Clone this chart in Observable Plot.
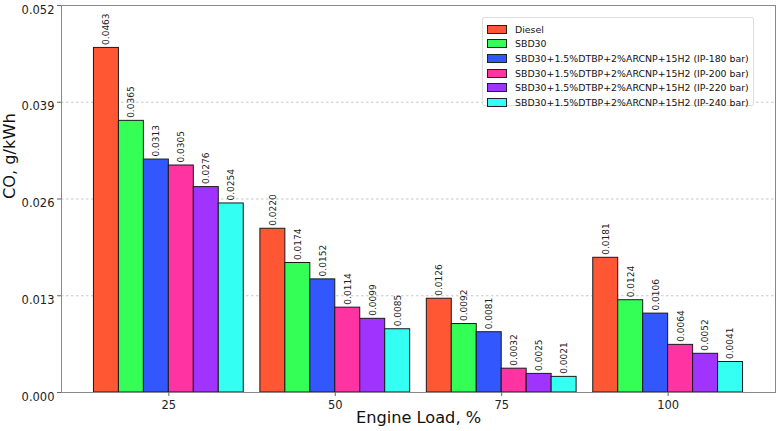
<!DOCTYPE html>
<html>
<head>
<meta charset="utf-8">
<script src="https://cdn.jsdelivr.net/npm/d3@7"></script>
<script src="https://cdn.jsdelivr.net/npm/@observablehq/plot@0.6"></script>
<style>
  html, body { margin: 0; padding: 0; background: #fff; }
  #chart { position: relative; width: 776px; height: 431px; font-family: "DejaVu Sans", sans-serif; }
  #legend {
    position: absolute; left: 482px; top: 17px; width: 272px; height: 89px;
    box-sizing: border-box; border: 1px solid #ddd; border-radius: 2px; background: rgba(255,255,255,0.85);
    padding: 4px 0 0 4px; font-size: 9.4px; color: #111;
  }
  #legend .row { display: flex; align-items: center; height: 14.6px; white-space: nowrap; }
  #legend .sw { width: 18px; height: 7px; border: 1px solid #222; margin-right: 8px; flex: none; }
</style>
</head>
<body>
<div id="chart"></div>
<script>
// Engine load levels (x categories)
const loads = [25, 50, 75, 100];

// Fuel blends, in drawing order
const seriesNames = [
  "Diesel",
  "SBD30",
  "SBD30+1.5%DTBP+2%ARCNP+15H2 (IP-180 bar)",
  "SBD30+1.5%DTBP+2%ARCNP+15H2 (IP-200 bar)",
  "SBD30+1.5%DTBP+2%ARCNP+15H2 (IP-220 bar)",
  "SBD30+1.5%DTBP+2%ARCNP+15H2 (IP-240 bar)"
];
const seriesColors = ["#FF5733", "#33FF57", "#3357FF", "#FF33A1", "#A133FF", "#33FFF3"];

// CO emissions (g/kWh) per blend, one value per load
const diesel = [0.0463, 0.0220, 0.0126, 0.0181];
const sbd30  = [0.0365, 0.0174, 0.0092, 0.0124];
const ip180  = [0.0313, 0.0152, 0.0081, 0.0106];
const ip200  = [0.0305, 0.0114, 0.0032, 0.0064];
const ip220  = [0.0276, 0.0099, 0.0025, 0.0052];
const ip240  = [0.0254, 0.0085, 0.0021, 0.0041];

const yTicks = [0, 0.013, 0.026, 0.039, 0.052];

const seriesValues = [diesel, sbd30, ip180, ip200, ip220, ip240];
const barWidth = 0.15;

const rows = [];
loads.forEach((load, gi) => {
  seriesValues.forEach((vals, si) => {
    const xm = gi + (si - (seriesNames.length - 1) / 2) * barWidth;
    rows.push({load, series: seriesNames[si], xm, x1: xm - barWidth / 2, x2: xm + barWidth / 2, value: vals[gi]});
  });
});

const half = (seriesNames.length / 2) * barWidth;
const pad = 0.05 * (loads.length - 1 + 2 * half);

const chart = Plot.plot({
  width: 776,
  height: 431,
  marginLeft: 61,
  marginRight: 1,
  marginTop: 5,
  marginBottom: 39,
  style: {fontFamily: "DejaVu Sans, sans-serif", background: "#fff"},
  x: {type: "linear", domain: [-half - pad, loads.length - 1 + half + pad]},
  y: {domain: [0, 0.052]},
  color: {domain: seriesNames, range: seriesColors},
  marks: [
    Plot.ruleY(yTicks, {stroke: "#bbb", strokeDasharray: "2.5,2.5", strokeWidth: 0.8}),
    Plot.rectY(rows, {x1: "x1", x2: "x2", y1: 0, y2: "value", fill: "series", stroke: "#1a1a1a", strokeWidth: 1}),
    Plot.text(rows, {
      x: "xm", y: "value", text: d => d.value.toFixed(4),
      rotate: -90, textAnchor: "start", lineAnchor: "middle", dy: -3,
      fontSize: 9, fill: "#222"
    }),
    Plot.frame({stroke: "#888", strokeWidth: 1}),
    Plot.axisY({ticks: yTicks, tickFormat: d => d.toFixed(3), tickSize: 4, tickPadding: 3, stroke: "#666", fill: "#222", fontSize: 11.5, label: null}),
    Plot.axisX({ticks: loads.map((_, i) => i), tickFormat: i => loads[i], tickSize: 4, tickPadding: 4, stroke: "#666", fill: "#222", fontSize: 11.5, label: null}),
    Plot.text(["Engine Load, %"], {frameAnchor: "bottom", dy: 30, fontSize: 16.2, fill: "#111", lineAnchor: "bottom"}),
    Plot.text(["CO, g/kWh"], {frameAnchor: "left", dx: -52, rotate: -90, fontSize: 16.2, fill: "#111"})
  ]
});

const root = document.getElementById("chart");
root.appendChild(chart);

// Nudge the y tick labels down a hair so the top one clears the edge
d3.select(chart).selectAll("g[aria-label='y-axis tick label'] text").attr("dy", "0.38em");

const legend = document.createElement("div");
legend.id = "legend";
seriesNames.forEach((name, i) => {
  const row = document.createElement("div");
  row.className = "row";
  const sw = document.createElement("span");
  sw.className = "sw";
  sw.style.background = seriesColors[i];
  const label = document.createElement("span");
  label.textContent = name;
  row.appendChild(sw);
  row.appendChild(label);
  legend.appendChild(row);
});
root.appendChild(legend);
</script>
</body>
</html>
